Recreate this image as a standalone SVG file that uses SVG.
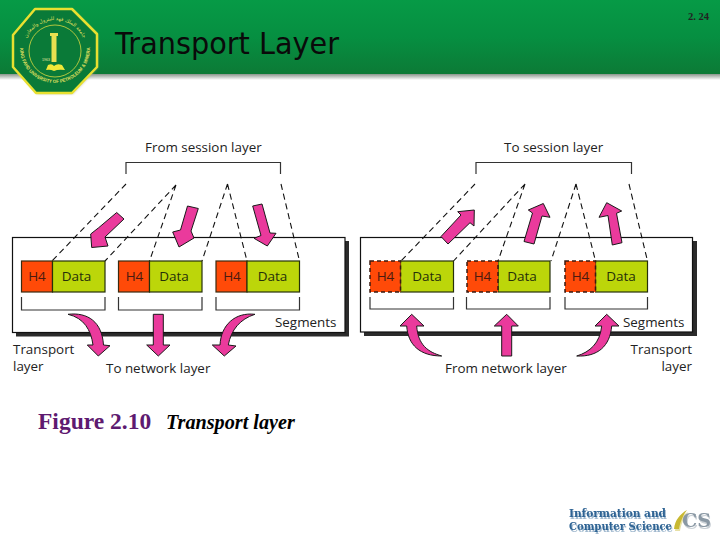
<svg xmlns="http://www.w3.org/2000/svg" width="720" height="540" viewBox="0 0 720 540">
<defs>
<linearGradient id="hdr" x1="0" y1="0" x2="0" y2="1"><stop offset="0" stop-color="#069a46"/><stop offset="0.5" stop-color="#068f41"/><stop offset="1" stop-color="#0c7a36"/></linearGradient>
<linearGradient id="hdrShade" x1="0" y1="0" x2="0" y2="1"><stop offset="0" stop-color="#8a958c"/><stop offset="1" stop-color="#ffffff"/></linearGradient>
<filter id="soft" x="-10%" y="-30%" width="120%" height="170%"><feGaussianBlur in="SourceGraphic" stdDeviation="0.5" result="b"/><feOffset in="b" dx="1" dy="1.500" result="o"/><feComponentTransfer in="o" result="l"><feFuncA type="linear" slope="0.450"/></feComponentTransfer><feMerge><feMergeNode in="l"/><feMergeNode in="b"/></feMerge></filter>
<filter id="soft2" x="-10%" y="-30%" width="120%" height="160%"><feGaussianBlur stdDeviation="1"/></filter>
<path id="ringTop" d="M24,51 A31,31 0 0 1 86,51"/>
<path id="ringBot" d="M20,48 A35,35 0 1 0 90,48"/>
</defs>
<style>
.lbl{font-family:"Open Sans","Liberation Sans",sans-serif;font-size:13.4px;fill:#222}
.seg{font-family:"Open Sans","Liberation Sans",sans-serif;font-size:13.5px;text-anchor:middle}
.h4{fill:#ff4a08;stroke:#3a2a10;stroke-width:1.2}
.h4d{fill:#ff4a08;stroke:#3a1a10;stroke-width:1.5;stroke-dasharray:4 3}
.data{fill:#bcd60a;stroke:#26300a;stroke-width:1.2}
.panel{fill:#fff;stroke:#111;stroke-width:1.2}
.dash{fill:none;stroke:#111;stroke-width:1.1;stroke-dasharray:6 4}
.brk{fill:none;stroke:#333;stroke-width:1.2}
.arr{fill:#ea3a9c;stroke:#1a1a1a;stroke-width:1}
</style>
<rect width="720" height="540" fill="#fff"/>
<g id="header">
<rect x="0" y="0" width="720" height="74" fill="url(#hdr)"/>
<rect x="0" y="74" width="720" height="6" fill="url(#hdrShade)"/>
<text x="115" y="54" font-family="'DejaVu Sans',sans-serif" font-size="30" textLength="224" lengthAdjust="spacingAndGlyphs" fill="#0a0a0a">Transport Layer</text>
<text x="688" y="20" font-family="'Liberation Serif',serif" font-weight="bold" font-size="10.5" fill="#222">2. 24</text>
</g>
<g id="logo">
<polygon points="36,10 73,10 98,35 98,68 73,94 37,94 14,68 14,36" fill="#9a9f8a" opacity="0.5" filter="url(#soft2)"/>
<polygon points="35,9 72,9 97,34 97,67 72,93 36,93 13,67 13,35" fill="#0a7a38" stroke="#e8e030" stroke-width="2.500" stroke-linejoin="round"/>
<circle cx="55" cy="51" r="26" fill="none" stroke="#d8d840" stroke-width="0.8"/>
<text font-family="'DejaVu Sans',sans-serif" font-size="5" fill="#e0e060"><textPath href="#ringTop" startOffset="50%" text-anchor="middle">جامعة الملك فهد للبترول والمعادن</textPath></text>
<text font-family="'Liberation Sans',sans-serif" font-weight="bold" font-size="4.800" fill="#e0e060"><textPath href="#ringBot" textLength="116" lengthAdjust="spacingAndGlyphs">KING FAHD UNIVERSITY OF PETROLEUM &amp; MINERALS</textPath></text>
<rect x="51.500" y="35" width="5" height="27" fill="#e8e050"/>
<rect x="50" y="33" width="8" height="3" fill="#e8e050"/>
<path d="M46,70 L48,65 Q52,63 54,66 Q57,63 62,65 L65,70 Q58,69 54,71 Q50,69 46,70 Z" fill="#f0e838"/>
<text x="42" y="61" font-family="'Liberation Sans',sans-serif" font-size="3.600" fill="#e8e8a0">1963</text>
</g>

<g id="left-panel"><rect fill="#2b2b2b" x="16" y="241" width="333" height="95.500"/><rect class="panel" x="12.500" y="237.500" width="332.500" height="95"/></g>
<g id="right-panel"><rect fill="#2b2b2b" x="364" y="241" width="333" height="95"/><rect class="panel" x="360.500" y="237.500" width="332" height="94.500"/></g>

<g id="connectors">
<path class="brk" d="M126,174V162.500H280.500V174"/>
<path class="dash" d="M126,184L52,261M176,185L105,261M176,185L149.500,261M227.500,184L202,261M227.500,184L247,261M281,184L299.500,261"/>
<path class="brk" d="M21.500,297V310H105V297M118.500,297V310H202V297M216,297V310H299.500V297"/>
<path class="brk" d="M476,174V162.500H631.500V174"/>
<path class="dash" d="M475,184L401,261M525,184L453.500,261M525,184L498,261M576,184L551,261M576,184L595.500,261M629,184L647.500,261"/>
<path class="brk" d="M370,297V309H453.500V297M466.500,297V309H550V297M565,297V309H647.500V297"/>
<polygon class="arr" points="116.700,212.500 124,219 105,237 108,246 91.700,247.500 90.700,234 98.700,227.700"/>
<polygon class="arr" points="187.500,206 198.300,208.500 191,231 194,238 179,247 172.700,232 180.500,230"/>
<polygon class="arr" points="252.700,206 262,204 270,233 276,233.300 267.300,246 254,238.300 261,235.500"/>
<polygon class="arr" points="448,244 441,236.500 461,215 457.700,211.700 474.300,210 474,226 470,222.700"/>
<polygon class="arr" points="524,241.500 534,244 542,216 550,217.300 543.300,203.500 528.300,210 532.500,213"/>
<polygon class="arr" points="612.300,245 622,242.700 616.500,213.300 621.700,211 606.700,202.700 599,217.300 608,215.500"/>
<path class="arr" d="M68,314.300C88,312 102,322 103.500,345L110,345.700L98.300,356L87.300,345L93,345C91,330 84,318 68,314.300Z"/>
<polygon class="arr" points="153.300,314.300 163.300,314.300 163.300,345 170,345 158.300,356 146.700,345 153.300,345"/>
<path class="arr" d="M255,314.300C235,312 221,325 220,345L212.300,345L224.300,356L236,346L228.300,345C231,330 240,319 255,314.300Z"/>
<path class="arr" d="M411.700,314.300L400,326L406.700,326C408,345 420,356 441.700,356C428,352 418,345 416.700,326L424,326Z"/>
<polygon class="arr" points="506.700,314.300 494.300,326 501.700,326 501.700,356 511.700,356 511.700,326 518.300,326"/>
<path class="arr" d="M606.700,314.300L595,326L601.700,326C600,343 590,352 576.700,356C598,357 610,346 611.700,326L619,326Z"/>
</g>

<g id="seg-l1"><rect class="h4" x="21.500" y="261" width="31" height="31"/><rect class="data" x="52.500" y="261" width="52.500" height="31"/><text class="seg" x="37" y="281" fill="#4a1a10">H4</text><text class="seg" x="76.500" y="281" fill="#26300a">Data</text></g>
<g id="seg-l2"><rect class="h4" x="118.500" y="261" width="31" height="31"/><rect class="data" x="149.500" y="261" width="52.500" height="31"/><text class="seg" x="134.500" y="281" fill="#4a1a10">H4</text><text class="seg" x="174" y="281" fill="#26300a">Data</text></g>
<g id="seg-l3"><rect class="h4" x="216" y="261" width="31" height="31"/><rect class="data" x="247" y="261" width="52.500" height="31"/><text class="seg" x="232" y="281" fill="#4a1a10">H4</text><text class="seg" x="272.500" y="281" fill="#26300a">Data</text></g>
<g id="seg-r1"><rect class="data" x="400.500" y="261" width="53" height="31"/><rect class="h4d" x="370" y="261" width="30.500" height="31"/><text class="seg" x="385.500" y="281" fill="#4a1a10">H4</text><text class="seg" x="427" y="281" fill="#26300a">Data</text></g>
<g id="seg-r2"><rect class="data" x="498" y="261" width="52" height="31"/><rect class="h4d" x="467" y="261" width="31" height="31"/><text class="seg" x="482.500" y="281" fill="#4a1a10">H4</text><text class="seg" x="522" y="281" fill="#26300a">Data</text></g>
<g id="seg-r3"><rect class="data" x="595.500" y="261" width="52" height="31"/><rect class="h4d" x="565" y="261" width="30.500" height="31"/><text class="seg" x="580.500" y="281" fill="#4a1a10">H4</text><text class="seg" x="621" y="281" fill="#26300a">Data</text></g>

<g id="labels">
<text class="lbl" x="145" y="152">From session layer</text>
<text class="lbl" x="504" y="152">To session layer</text>
<text class="lbl" x="275" y="327">Segments</text>
<text class="lbl" x="623" y="327">Segments</text>
<text class="lbl" x="13" y="354">Transport</text>
<text class="lbl" x="13" y="371">layer</text>
<text class="lbl" x="106" y="373">To network layer</text>
<text class="lbl" x="445" y="373">From network layer</text>
<text class="lbl" x="692" y="354" text-anchor="end">Transport</text>
<text class="lbl" x="692" y="371" text-anchor="end">layer</text>
</g>
<g id="caption">
<text x="38" y="429" font-family="'Liberation Serif',serif" font-weight="bold" font-size="23.500" fill="#5e1a70">Figure 2.10</text>
<text x="166" y="429" font-family="'Liberation Serif',serif" font-weight="bold" font-style="italic" font-size="20.200" fill="#000">Transport layer</text>
</g>
<g id="ics-logo" filter="url(#soft)" font-family="'DejaVu Serif','Liberation Serif',serif" font-weight="bold" font-size="11.500">
<text x="569" y="517" textLength="97" lengthAdjust="spacingAndGlyphs" fill="#2f6494">Information and</text>
<text x="569" y="530" textLength="103" lengthAdjust="spacingAndGlyphs" fill="#2f6494">Computer Science</text>
<path d="M674,529C675,520 680,514 687,510C682,517 680,523 679,529Z" fill="#c8b830"/>
<text x="682" y="527" font-size="19" textLength="29" lengthAdjust="spacingAndGlyphs" fill="#8a98a4">CS</text>
</g>
</svg>
